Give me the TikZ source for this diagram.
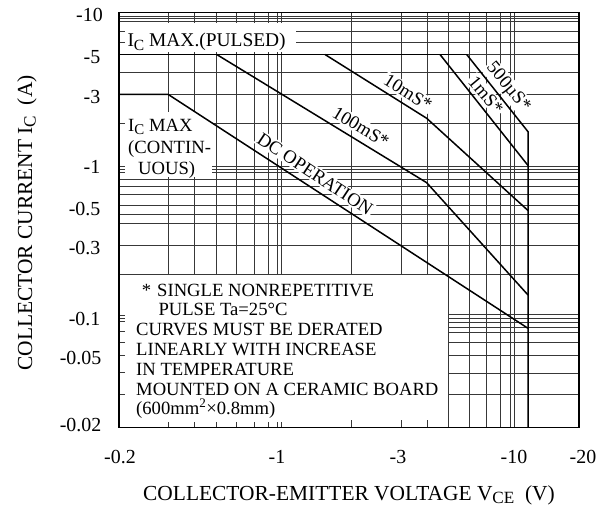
\documentclass[tikz,border=0pt]{standalone}
\usepackage{fontspec}
\setmainfont{Liberation Serif}
\usepackage{graphicx}
\newcommand\mysub[1]{\raisebox{-0.38ex}{\scalebox{0.8}{#1}}}
\begin{document}
\begin{tikzpicture}[x=1bp,y=-1bp,
  gridline/.style={line width=0.8bp, black!78},
  curve/.style={line width=1.5bp, black},
  frameline/.style={line width=1.7bp, black},
  ticklab/.style={font=\fontsize{20}{22}\selectfont, inner sep=0pt},
  boxtext/.style={font=\fontsize{18.7}{20}\selectfont, inner sep=0pt, anchor=base west},
  curvelab/.style={font=\fontsize{18.7}{20}\selectfont, fill=white, inner sep=1.5bp},
  axistitle/.style={font=\fontsize{21.5}{24}\selectfont, inner sep=0pt, anchor=base}]
\useasboundingbox (0,0) rectangle (616,511);
\fill[white] (0,0) rectangle (616,511);

% vertical grid lines, left part (stop at the note box)
\foreach \x in {168.5,194.3,216.7,236,254,268,277.5,281.7,351.7,401,427}
  \draw[gridline] (\x,12.5) -- (\x,274.5);
\foreach \x in {168.5,194.3,216.7,236,254,268,277.5,281.7}
  \draw[gridline] (\x,427.5) -- (\x,421.5);
\foreach \x in {351.7,401,427}
  \draw[gridline] (\x,427.5) -- (\x,419.5);
% vertical grid lines, right part
\foreach \x in {448.5,469,486.7,500.5,510,514.2}
  \draw[gridline] (\x,12.5) -- (\x,427.5);
% horizontal grid lines, upper part
\foreach \y in {16,18.5,21.7,31,42.5,54.5,72,94.5,123,166,169.3,172.7,179.5,186.5,194.3,205,214.5,223.5,245,274.5}
  \draw[gridline] (119.3,\y) -- (579.3,\y);
% horizontal grid lines, lower part
\foreach \y in {314.5,318.5,322,327.5,332,342.7,355,373,394.3}
  \draw[gridline] (448.5,\y) -- (579.3,\y);
\foreach \y in {315,318.3,321.7,331.7,342.7,355,372.7,394.3}
  \draw[gridline] (119.3,\y) -- (124.5,\y);

% label backgrounds
\fill[white] (125,23) rectangle (296,52);
\fill[white] (125,112) rectangle (212,177.5);

% limit labels
\node[font=\fontsize{19.5}{21}\selectfont, inner sep=0pt, anchor=base west] (pulsed) at (127.3,47) {I\mysub{C} MAX.(PULSED)};
\node[boxtext] (cont1) at (128,131.5) {I\mysub{C} MAX};
\node[boxtext] (cont2) at (128,153.5) {(CONTIN-};
\node[boxtext] (cont3) at (138,174.5) {UOUS)};

% curve labels
\node[curvelab, rotate=-33.5] (dclab) at (315,174) {DC OPERATION};
\node[curvelab, rotate=-31] (l100) at (361,127) {100mS*};
\node[curvelab, rotate=-32] (l10) at (408,92.5) {10mS*};
\node[curvelab, rotate=-50] (l1) at (486,95) {1mS*};
\node[curvelab, rotate=-50] (l500) at (508,87.5) {500µS*};

% SOA curves
\draw[curve] (119.3,54.5) -- (466.7,54.5);
\draw[curve] (119.3,94.5) -- (168.3,94.5) -- (528,328.3);
\draw[curve] (216.7,54.5) -- (426.7,182.7) -- (528,295);
\draw[curve] (325,54.5) -- (426.7,118.3) -- (528,210.5);
\draw[curve] (440,54.5) -- (528,165.5);
\draw[curve] (466.7,54.5) -- (528,131.7) -- (528,427.5);

% frame
\draw[frameline] (119.3,12.5) rectangle (579.3,427.5);

% note box text
\node[boxtext] (n1) at (141.7,296.5) {*\hspace{6bp}SINGLE NONREPETITIVE};
\node[boxtext] (n2) at (158.3,315.7) {PULSE Ta=25°C};
\node[boxtext] (n3) at (136,335) {CURVES MUST BE DERATED};
\node[boxtext] (n4) at (136,355) {LINEARLY WITH INCREASE};
\node[boxtext] (n5) at (136,375) {IN TEMPERATURE};
\node[boxtext] (n6) at (136,395) {MOUNTED ON A CERAMIC BOARD};
\node[boxtext] (n7) at (136,414) {(600mm\textsuperscript{2}×0.8mm)};

% y tick labels
\node[ticklab, anchor=base east] (y1) at (103,21.5) {-10};
\node[ticklab, anchor=base east] (y2) at (100.5,64) {-5};
\node[ticklab, anchor=base east] (y3) at (100.5,104) {-3};
\node[ticklab, anchor=base east] (y4) at (100.5,174) {-1};
\node[ticklab, anchor=base east] (y5) at (100.5,216) {-0.5};
\node[ticklab, anchor=base east] (y6) at (100.5,254) {-0.3};
\node[ticklab, anchor=base east] (y7) at (100.5,325) {-0.1};
\node[ticklab, anchor=base east] (y8) at (101.5,364) {-0.05};
\node[ticklab, anchor=base east] (y9) at (101.5,431) {-0.02};

% x tick labels
\node[ticklab, anchor=base] (x1) at (120,463) {-0.2};
\node[ticklab, anchor=base] (x2) at (277,463) {-1};
\node[ticklab, anchor=base] (x3) at (398,463) {-3};
\node[ticklab, anchor=base] (x4) at (514,463) {-10};
\node[ticklab, anchor=base] (x5) at (583,463) {-20};

% axis titles
\node[axistitle] (xtitle) at (349,500) {COLLECTOR-EMITTER VOLTAGE V\mysub{CE}\ \ (V)};
\node[axistitle, rotate=90] (ytitle) at (32,223) {COLLECTOR CURRENT I\mysub{C}\ \ (A)};
\end{tikzpicture}
\end{document}
